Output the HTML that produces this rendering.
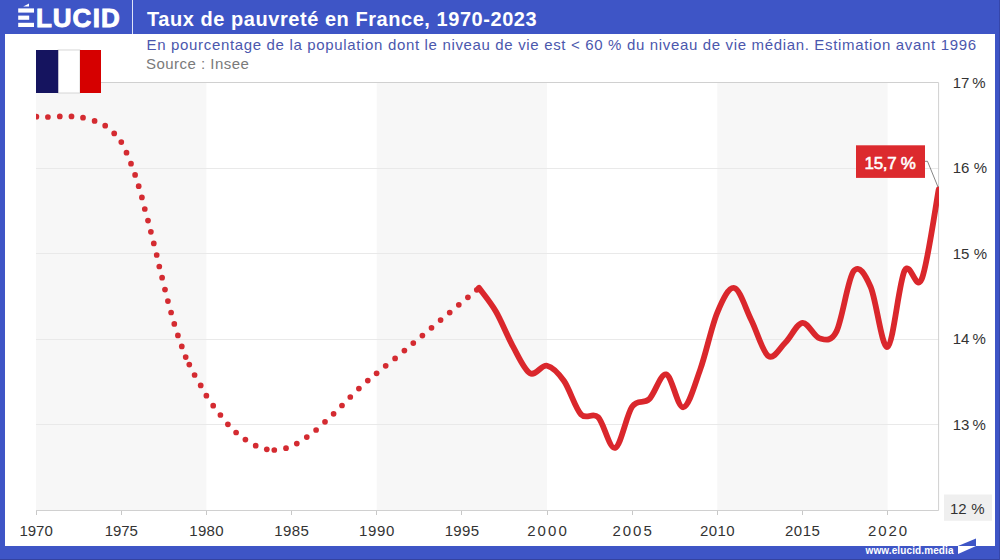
<!DOCTYPE html>
<html><head><meta charset="utf-8"><style>
html,body{margin:0;padding:0;background:#fff;}
body{width:1000px;height:560px;position:relative;overflow:hidden;font-family:"Liberation Sans",sans-serif;}
.abs{position:absolute;white-space:nowrap;}
</style></head><body>
<svg width="1000" height="560" viewBox="0 0 1000 560" style="position:absolute;left:0;top:0" font-family="Liberation Sans, sans-serif">
<rect x="0" y="0" width="1000" height="560" fill="#fff"/>
<!-- frame -->
<rect x="0" y="0" width="1000" height="34" fill="#3e55c6"/>
<rect x="0" y="0" width="5" height="560" fill="#3e55c6"/>
<rect x="995" y="0" width="5" height="560" fill="#3e55c6"/>
<rect x="0" y="546" width="1000" height="14" fill="#3e55c6"/>
<rect x="0" y="559" width="1000" height="1" fill="#34429f"/>
<rect x="999" y="0" width="1" height="560" fill="#3646aa"/>
<line x1="132.5" x2="132.5" y1="0" y2="34" stroke="#dfe4f8" stroke-width="1"/>
<!-- logo E bars -->
<rect x="18.2" y="8.4" width="15.8" height="4.2" fill="#fff"/>
<rect x="18.2" y="15.6" width="11" height="4.2" fill="#fff"/>
<rect x="18.2" y="22.8" width="15.8" height="4.2" fill="#fff"/>
<path d="M23.2,6.4 L29,3.4 L29,6.4 Z" fill="#fff"/>
<g fill="#fff" font-weight="bold" font-size="26" stroke="#fff" stroke-width="0.9">
<text x="36.1" y="26.6">L</text><text x="52.64" y="26.6">U</text><text x="72.48" y="26.6">C</text><text x="92.81" y="26.6">I</text><text x="101.06" y="26.6">D</text></g>
<text x="147" y="25.6" fill="#fff" font-weight="bold" font-size="20" letter-spacing="0.55">Taux de pauvreté en France, 1970-2023</text>
<text x="146.6" y="50" fill="#4b57ad" font-size="15" textLength="829.4" lengthAdjust="spacing">En pourcentage de la population dont le niveau de vie est &lt; 60 % du niveau de vie médian. Estimation avant 1996</text>
<text x="146" y="68.8" fill="#7a7a7a" font-size="15" textLength="102.8" lengthAdjust="spacing">Source : Insee</text>
<!-- plot -->
<rect x="36.10" y="82.6" width="170.30" height="427.40" fill="#f7f7f7"/><rect x="376.70" y="82.6" width="170.30" height="427.40" fill="#f7f7f7"/><rect x="717.30" y="82.6" width="170.30" height="427.40" fill="#f7f7f7"/>
<line x1="36.0" x2="939.1" y1="168.5" y2="168.5" stroke="#e9e9e9" stroke-width="1"/><line x1="36.0" x2="939.1" y1="253.5" y2="253.5" stroke="#e9e9e9" stroke-width="1"/><line x1="36.0" x2="939.1" y1="339.5" y2="339.5" stroke="#e9e9e9" stroke-width="1"/><line x1="36.0" x2="939.1" y1="424.5" y2="424.5" stroke="#e9e9e9" stroke-width="1"/>
<path d="M36.0,82.5 H938.60 V510.5 H36.0" fill="none" stroke="#d0d0d0" stroke-width="1"/>
<line x1="36.5" x2="36.5" y1="511" y2="515" stroke="#c8c8c8" stroke-width="1"/><line x1="121.5" x2="121.5" y1="511" y2="515" stroke="#c8c8c8" stroke-width="1"/><line x1="206.5" x2="206.5" y1="511" y2="515" stroke="#c8c8c8" stroke-width="1"/><line x1="291.5" x2="291.5" y1="511" y2="515" stroke="#c8c8c8" stroke-width="1"/><line x1="376.5" x2="376.5" y1="511" y2="515" stroke="#c8c8c8" stroke-width="1"/><line x1="461.5" x2="461.5" y1="511" y2="515" stroke="#c8c8c8" stroke-width="1"/><line x1="547.5" x2="547.5" y1="511" y2="515" stroke="#c8c8c8" stroke-width="1"/><line x1="632.5" x2="632.5" y1="511" y2="515" stroke="#c8c8c8" stroke-width="1"/><line x1="717.5" x2="717.5" y1="511" y2="515" stroke="#c8c8c8" stroke-width="1"/><line x1="802.5" x2="802.5" y1="511" y2="515" stroke="#c8c8c8" stroke-width="1"/><line x1="887.5" x2="887.5" y1="511" y2="515" stroke="#c8c8c8" stroke-width="1"/>
<!-- flag -->
<rect x="58" y="50" width="22" height="43" fill="#fff" stroke="#ccc" stroke-width="0.8"/>
<rect x="36" y="50" width="22.2" height="43" fill="#15145f"/>
<rect x="80" y="50" width="21" height="43" fill="#d60000"/>
<g clip-path="url(#clip)">
<g fill="#d42b31"><circle cx="36.4" cy="116.7" r="2.85"/><circle cx="47.9" cy="117" r="2.85"/><circle cx="59.8" cy="116.4" r="2.85"/><circle cx="71.5" cy="116.4" r="2.85"/><circle cx="83" cy="117.7" r="2.85"/><circle cx="94.6" cy="120.9" r="2.85"/><circle cx="105.2" cy="125.7" r="2.85"/><circle cx="114.2" cy="133.4" r="2.85"/><circle cx="121.3" cy="142.1" r="2.85"/><circle cx="126.5" cy="152.7" r="2.85"/><circle cx="131" cy="163.7" r="2.85"/><circle cx="135.1" cy="174.9" r="2.85"/><circle cx="138.7" cy="186.2" r="2.85"/><circle cx="141.9" cy="197.4" r="2.85"/><circle cx="144.8" cy="209" r="2.85"/><circle cx="148" cy="220.6" r="2.85"/><circle cx="150.9" cy="231.8" r="2.85"/><circle cx="153.8" cy="243.4" r="2.85"/><circle cx="156.7" cy="255" r="2.85"/><circle cx="159.3" cy="266.5" r="2.85"/><circle cx="162.1" cy="277.7" r="2.85"/><circle cx="165" cy="289.6" r="2.85"/><circle cx="167.9" cy="301.1" r="2.85"/><circle cx="171.1" cy="312.5" r="2.85"/><circle cx="174.3" cy="323.9" r="2.85"/><circle cx="177.9" cy="335.4" r="2.85"/><circle cx="181.8" cy="346.4" r="2.85"/><circle cx="185.7" cy="357.1" r="2.85"/><circle cx="189.3" cy="364.6" r="2.85"/><circle cx="194.6" cy="375" r="2.85"/><circle cx="200.7" cy="385.4" r="2.85"/><circle cx="206.4" cy="395.7" r="2.85"/><circle cx="213.2" cy="405.7" r="2.85"/><circle cx="220.4" cy="415" r="2.85"/><circle cx="227.9" cy="424.3" r="2.85"/><circle cx="236.1" cy="432.5" r="2.85"/><circle cx="245.4" cy="439.6" r="2.85"/><circle cx="255.7" cy="445.7" r="2.85"/><circle cx="266.8" cy="449.3" r="2.85"/><circle cx="274.3" cy="450" r="2.85"/><circle cx="286" cy="448.2" r="2.85"/><circle cx="296.8" cy="443.6" r="2.85"/><circle cx="306.8" cy="437.1" r="2.85"/><circle cx="316.1" cy="430" r="2.85"/><circle cx="325" cy="421.8" r="2.85"/><circle cx="333.6" cy="413.8" r="2.85"/><circle cx="342" cy="405.5" r="2.85"/><circle cx="350.3" cy="397" r="2.85"/><circle cx="358.9" cy="388.6" r="2.85"/><circle cx="367.8" cy="380.6" r="2.85"/><circle cx="376.6" cy="373.3" r="2.85"/><circle cx="385.7" cy="365.8" r="2.85"/><circle cx="395.1" cy="358.4" r="2.85"/><circle cx="404.4" cy="350.6" r="2.85"/><circle cx="413.3" cy="343.1" r="2.85"/><circle cx="422.4" cy="335.6" r="2.85"/><circle cx="431.5" cy="327.8" r="2.85"/><circle cx="440.6" cy="320.1" r="2.85"/><circle cx="449.7" cy="312.6" r="2.85"/><circle cx="458.8" cy="304.8" r="2.85"/><circle cx="467.9" cy="297.3" r="2.85"/><circle cx="476.8" cy="289.8" r="2.85"/></g>
<path d="M478.88,287.75 C481.72,291.71 490.23,301.74 495.91,311.52 C501.59,321.29 507.26,336.11 512.94,346.39 C518.62,356.68 524.29,370.01 529.97,373.23 C535.65,376.45 541.32,364.41 547.00,365.71 C552.68,367.01 558.35,372.89 564.03,381.01 C569.71,389.13 575.38,408.41 581.06,414.43 C586.74,420.46 592.41,411.60 598.09,417.17 C603.77,422.74 609.44,449.61 615.12,447.86 C620.80,446.10 626.47,414.78 632.15,406.65 C637.83,398.53 643.50,404.50 649.18,399.13 C654.86,393.76 660.53,373.08 666.21,374.43 C671.89,375.78 677.56,408.09 683.24,407.25 C688.92,406.41 694.59,385.17 700.27,369.39 C705.95,353.60 711.62,326.10 717.30,312.54 C722.98,298.98 728.65,286.73 734.33,288.01 C740.01,289.29 745.68,308.88 751.36,320.23 C757.04,331.59 762.71,352.43 768.39,356.14 C774.07,359.84 779.74,348.02 785.42,342.46 C791.10,336.90 796.77,323.50 802.45,322.80 C808.13,322.10 813.80,336.85 819.48,338.27 C825.16,339.70 830.83,342.50 836.51,331.35 C842.19,320.19 847.86,278.78 853.54,271.34 C859.22,263.90 864.89,274.15 870.57,286.73 C876.25,299.31 881.92,349.50 887.60,346.82 C893.28,344.14 898.95,281.93 904.63,270.66 C910.31,259.39 915.98,292.74 921.66,279.20 C927.34,265.67 935.85,204.41 938.69,189.45" fill="none" stroke="#da272c" stroke-width="5.8" stroke-linejoin="round" stroke-linecap="round"/>
</g>
<defs><clipPath id="clip"><rect x="36.0" y="0" width="903.10" height="560"/></clipPath></defs>
<g font-size="15" fill="#333"><text x="19.40" y="536" textLength="33.4" lengthAdjust="spacing">1970</text><text x="104.65" y="536" textLength="33.2" lengthAdjust="spacing">1975</text><text x="189.20" y="536" textLength="34.4" lengthAdjust="spacing">1980</text><text x="274.15" y="536" textLength="34.8" lengthAdjust="spacing">1985</text><text x="359.10" y="536" textLength="35.2" lengthAdjust="spacing">1990</text><text x="444.65" y="536" textLength="34.4" lengthAdjust="spacing">1995</text><text x="527.20" y="536" textLength="39.6" lengthAdjust="spacing">2000</text><text x="612.55" y="536" textLength="39.2" lengthAdjust="spacing">2005</text><text x="699.90" y="536" textLength="34.8" lengthAdjust="spacing">2010</text><text x="785.05" y="536" textLength="34.8" lengthAdjust="spacing">2015</text><text x="868.00" y="536" textLength="39.2" lengthAdjust="spacing">2020</text></g>
<g font-size="15" fill="#333"><text x="952.76" y="87.90">17</text><text x="972.17" y="87.90">%</text><text x="952.76" y="173.38">16</text><text x="973.67" y="173.38">%</text><text x="952.76" y="258.86">15</text><text x="973.67" y="258.86">%</text><text x="952.76" y="344.34">14</text><text x="972.57" y="344.34">%</text><text x="952.76" y="429.82">13</text><text x="972.57" y="429.82">%</text></g>
<rect x="944" y="494.5" width="48" height="26.3" fill="#efefef"/>
<text x="949.96" y="513.6" font-size="15" fill="#333">12</text><text x="971.37" y="513.6" font-size="15" fill="#333">%</text>
<!-- label -->
<rect x="856" y="145.3" width="69" height="32.6" fill="#dc2a2e"/>
<text x="864.6" y="168.7" font-size="17" fill="#fff" stroke="#fff" stroke-width="0.55" textLength="51.2" lengthAdjust="spacing">15,7 %</text>
<polyline points="925,161.3 927.5,161.3 938,187" fill="none" stroke="#666" stroke-width="0.8"/>
<!-- footer -->
<text x="865.5" y="554" font-size="10" font-weight="bold" fill="#fff" textLength="88" lengthAdjust="spacing">www.elucid.media</text>
<path d="M958,546 L976,538.4 L976,546 Z" fill="#3e55c6"/>
<path d="M958,546 L976,546 L958,554 Z" fill="#fff"/>
</svg>
</body></html>
